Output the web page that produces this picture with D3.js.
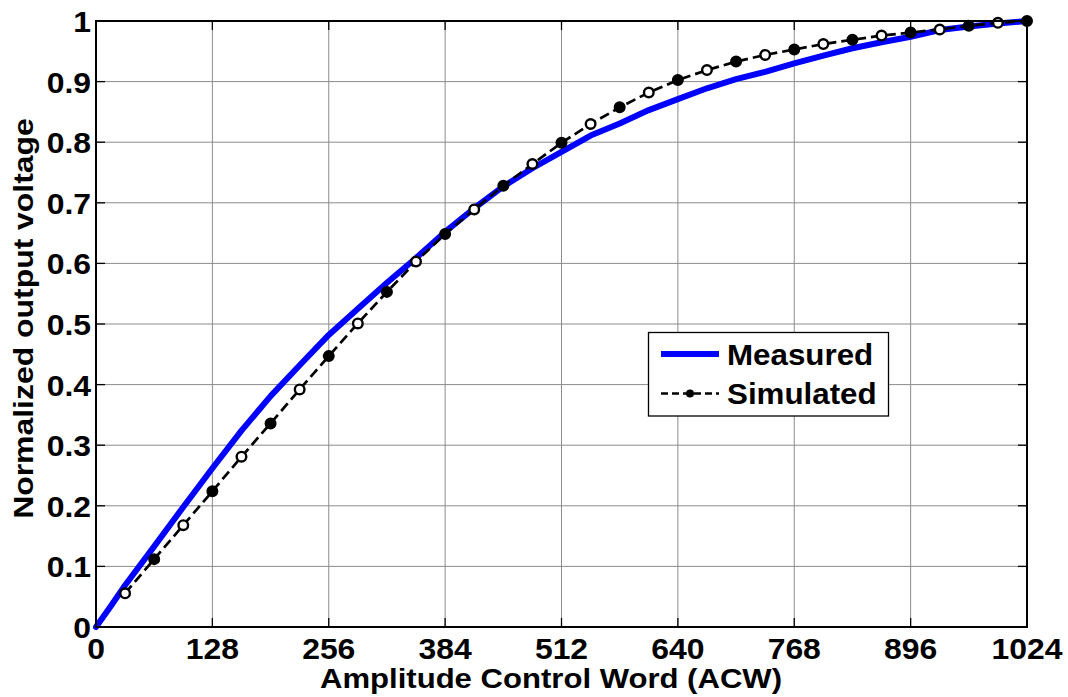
<!DOCTYPE html>
<html><head><meta charset="utf-8">
<script src="https://cdn.jsdelivr.net/npm/d3@7/dist/d3.min.js"></script>
<style>
html,body{margin:0;padding:0;background:#fff;}
text{font-family:"Liberation Sans",Arial,sans-serif;font-weight:bold;fill:#000;}
</style></head>
<body>
<svg id="chart" width="1068" height="697"></svg>
<script>
// ---- data ----
const xTicks = [0,128,256,384,512,640,768,896,1024];
const yTicks = [0,0.1,0.2,0.3,0.4,0.5,0.6,0.7,0.8,0.9,1];
const yTickLabels = ["0","0.1","0.2","0.3","0.4","0.5","0.6","0.7","0.8","0.9","1"];
const measuredX = [0,16,32,64,96,128,160,192,224,256,288,320,352,384,416,448,480,512,544,576,608,640,672,704,736,768,800,832,864,896,928,960,992,1024];
const measuredY = [0,0.034,0.069,0.133,0.198,0.262,0.324,0.381,0.432,0.482,0.525,0.568,0.609,0.652,0.691,0.727,0.757,0.784,0.811,0.831,0.853,0.871,0.889,0.904,0.916,0.930,0.943,0.955,0.965,0.974,0.985,0.991,0.996,1.0];
const simulatedX = [32,64,96,128,160,192,224,256,288,320,352,384,416,448,480,512,544,576,608,640,672,704,736,768,800,832,864,896,928,960,992,1024];
const simulatedY = [0.0556,0.112,0.168,0.224,0.281,0.336,0.392,0.447,0.501,0.553,0.603,0.6485,0.689,0.728,0.764,0.799,0.830,0.8575,0.882,0.9026,0.919,0.933,0.944,0.953,0.962,0.969,0.976,0.981,0.986,0.992,0.997,1.0];
const seriesNames = ["Measured","Simulated"];
const xLabel = "Amplitude Control Word (ACW)";
const yLabel = "Normalized output voltage";

// ---- layout ----
const L = 96, R = 1027, T = 21, B = 627;
const svg = d3.select("#chart");
const x = d3.scaleLinear().domain([0,1024]).range([L,R]);
const y = d3.scaleLinear().domain([0,1]).range([B,T]);
const sx = 1.1;

// grid
const grid = svg.append("g").attr("stroke","#8c8c8c").attr("stroke-width",1);
xTicks.forEach(v=>{ grid.append("line").attr("x1",x(v)).attr("x2",x(v)).attr("y1",T).attr("y2",B); });
yTicks.forEach(v=>{ grid.append("line").attr("x1",L).attr("x2",R).attr("y1",y(v)).attr("y2",y(v)); });

// inward ticks
const tk = svg.append("g").attr("stroke","#000").attr("stroke-width",1.3);
xTicks.forEach(v=>{
  tk.append("line").attr("x1",x(v)).attr("x2",x(v)).attr("y1",B).attr("y2",B-9);
  tk.append("line").attr("x1",x(v)).attr("x2",x(v)).attr("y1",T).attr("y2",T+9);
});
yTicks.forEach(v=>{
  tk.append("line").attr("x1",L).attr("x2",L+9).attr("y1",y(v)).attr("y2",y(v));
  tk.append("line").attr("x1",R).attr("x2",R-9).attr("y1",y(v)).attr("y2",y(v));
});

// measured line
const lineGen = d3.line().x(d=>x(d[0])).y(d=>y(d[1]));
svg.append("path").datum(measuredX.map((v,i)=>[v,measuredY[i]]))
  .attr("d",lineGen).attr("fill","none").attr("stroke","#0000ff")
  .attr("stroke-width",6).attr("stroke-linejoin","round").attr("stroke-linecap","round");

// simulated line
const simData = simulatedX.map((v,i)=>[v,simulatedY[i]]);
svg.append("path").datum(simData).attr("d",lineGen).attr("fill","none")
  .attr("stroke","#000").attr("stroke-width",2.7).attr("stroke-dasharray","10,5");
svg.append("g").selectAll("circle").data(simData).join("circle")
  .attr("cx",d=>x(d[0])).attr("cy",d=>y(d[1])).attr("r",4.8)
  .attr("fill",(d,i)=> i%2===0 ? "#fff" : "#000")
  .attr("stroke","#000").attr("stroke-width",2.4);

// axes box
svg.append("rect").attr("x",L).attr("y",T).attr("width",R-L).attr("height",B-T)
  .attr("fill","none").attr("stroke","#000").attr("stroke-width",2);

// tick labels
const fs = 29;
xTicks.forEach(v=>{
  svg.append("text").attr("transform",`translate(${x(v)},659) scale(${sx},1)`)
    .attr("text-anchor","middle").style("font-size",fs+"px").text(String(v));
});
yTicks.forEach((v,i)=>{
  svg.append("text").attr("transform",`translate(91,${y(v)+11}) scale(${sx},1)`)
    .attr("text-anchor","end").style("font-size",fs+"px").text(yTickLabels[i]);
});

// axis labels
svg.append("text").attr("transform",`translate(551,688) scale(1.11,1)`)
  .attr("text-anchor","middle").style("font-size","28px").text(xLabel);
svg.append("text").attr("transform",`translate(33,318.5) rotate(-90) scale(1.14,1)`)
  .attr("text-anchor","middle").style("font-size","28px").text(yLabel);

// legend
const lg = svg.append("g");
lg.append("rect").attr("x",648.5).attr("y",332.5).attr("width",240).attr("height",83.5)
  .attr("fill","#fff").attr("stroke","#000").attr("stroke-width",1.3);
lg.append("line").attr("x1",661).attr("x2",719).attr("y1",354).attr("y2",354)
  .attr("stroke","#0000ff").attr("stroke-width",6);
lg.append("line").attr("x1",661).attr("x2",719).attr("y1",393.5).attr("y2",393.5)
  .attr("stroke","#000").attr("stroke-width",2.5).attr("stroke-dasharray","7,4");
lg.append("circle").attr("cx",690).attr("cy",393.5).attr("r",4).attr("fill","#000");
lg.append("text").attr("transform","translate(727,365) scale(1.08,1)").style("font-size","29px").text(seriesNames[0]);
lg.append("text").attr("transform","translate(727,404) scale(1.08,1)").style("font-size","29px").text(seriesNames[1]);
</script>
</body></html>
